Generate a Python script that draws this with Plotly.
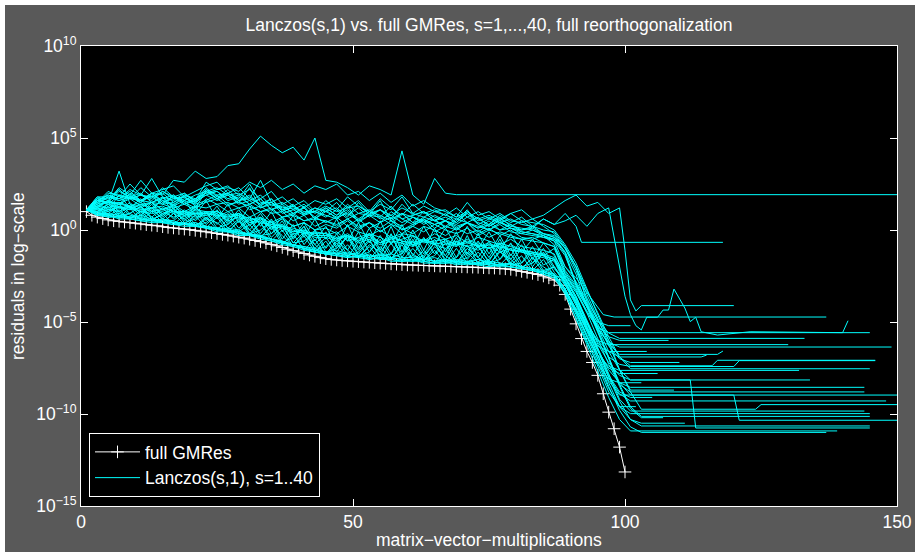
import plotly.graph_objects as go

# ---------------- data (log10 of residuals) ----------------
gmres_x = list(range(1, 101))
gmres_log = [1.0, 0.8, 0.7, 0.62, 0.55, 0.5, 0.47, 0.43, 0.4, 0.37,
             0.33, 0.29, 0.26, 0.23, 0.18, 0.14, 0.11, 0.08, 0.05, 0.02,
             -0.02, -0.06, -0.1, -0.15, -0.19, -0.24, -0.28, -0.33, -0.39, -0.44,
             -0.5, -0.57, -0.63, -0.7, -0.78, -0.86, -0.95, -1.04, -1.12, -1.2,
             -1.28, -1.36, -1.43, -1.5, -1.56, -1.6, -1.63, -1.66, -1.68, -1.7,
             -1.72, -1.74, -1.76, -1.78, -1.8, -1.82, -1.84, -1.86, -1.88, -1.9,
             -1.91, -1.92, -1.93, -1.94, -1.95, -1.96, -1.97, -1.98, -1.99, -2.0,
             -2.01, -2.02, -2.03, -2.05, -2.06, -2.07, -2.09, -2.11, -2.14, -2.18,
             -2.25, -2.3, -2.36, -2.42, -2.5, -2.6, -2.72, -3.0, -3.5, -4.3,
             -5.1, -5.9, -6.6, -7.2, -7.9, -8.9, -9.9, -10.8, -11.8, -13.15]

# sample positions of the noisy part of every Lanczos(s,1) curve
band_x = [1, 3, 5, 7, 9, 11, 13, 15, 17, 19, 21, 23, 25, 27, 29, 31, 33, 35, 37, 39, 41, 43,
          45, 47, 49, 51, 53, 55, 57, 59, 61, 63, 65, 67, 69, 71, 73, 75, 77, 79, 81, 83, 85, 87]

lanczos_head = [
    # s=1
    [1.1, 1.3, 1.6, 1.4, 1.8, 1.5, 2.0, 1.9, 2.7, 2.6, 3.2, 2.8, 2.9, 3.5, 3.6, 4.4, 5.1,
     4.6, 4.2, 4.5, 3.8, 5.0, 2.7, 2.6, 2.3, 1.9, 2.4, 2.2, 1.9, 4.3, 1.9, 1.4, 2.8, 2.0],
    [1.1, 1.2, 1.0, 1.3, 1.1, 1.4, 1.2, 1.6, 1.3, 1.9, 1.7,
     2.0, 2.2, 2.3, 2.1, 2.6, 2.3, 2.7, 2.2, 2.5, 2.0, 2.4,
     2.2, 2.5, 1.9, 2.1, 1.6, 2.0, 1.5, 1.9, 1.3, 1.6, 1.2,
     1.0, 0.7, 1.0, 0.6, 0.8, 0.5, 0.9, 1.1, 0.6, 0.8, 1.2],
    [1.1, 1.3, 1.5, 3.2, 1.4, 1.2, 1.5, 1.1, 1.3, 0.9, 1.2,
     0.8, 1.0, 0.6, 0.9, 0.5, 0.7, 0.3, 0.6, 0.2, 0.4, 0.0,
     0.3, 0.1, 0.5, 0.0, 0.4, -0.1, 0.3, -0.2, 0.2, 0.6, 0.1,
     0.5, 0.0, 0.4, -0.1, 0.3, 0.7, 0.2, 0.5, 0.1, 0.6, 0.3],
    [1.1, 1.6, 1.9, 1.7, 2.1, 1.6, 1.8, 1.4, 1.9, 1.5, 1.2,
     2.1, 1.7, 2.2, 1.6, 1.8, 1.4, 1.7, 1.0, 1.3, 0.9, 1.2,
     1.0, 1.5, 0.8, 1.2, 0.7, 1.1, 0.6, 1.4, 0.8, 1.0, 0.5,
     0.9, 0.4, 1.0, 0.6, 0.3, 0.8, 0.4, 0.7, 0.2, 0.6, 0.3],
    # s=5
    [1.1, 1.4, 1.8, 1.6, 1.8, 1.5, 1.9, 1.4, 1.5, 1.8, 1.3,
     1.5, 1.7, 1.3, 1.6, 1.1, 1.3, 0.9, 1.0, 0.5, 0.8, 0.2,
     0.5, 0.2, 0.6, 0.1, 0.4, -0.1, 0.3, 0.1, -0.2, 0.2, 0.0,
     -0.3, 0.1, -0.2, 0.0, -0.4, -0.1, -0.3, -0.5, -0.4, -0.7, -0.9],
    [1.1, 0.9, 1.3, 0.7, 1.2, 0.5, 1.0, 0.4, 0.9, 0.3, 0.8,
     0.1, 0.7, -0.1, 0.5, -0.3, 0.4, -0.6, 0.0, -0.9, -0.3, -1.2,
     -0.6, -1.4, -0.8, -1.5, -0.9, -1.6, -0.7, -1.7, -1.0, -1.7, -1.1,
     -1.8, -1.0, -1.8, -1.2, -1.9, -1.1, -1.9, -1.4, -2.2, -1.6, -2.5],
    [1.1, 1.6, 1.5, 2.2, 1.7, 1.9, 2.8, 1.8, 1.6, 2.0, 1.5,
     2.2, 1.7, 1.9, 1.5, 2.3, 1.2, 1.4, 1.1, 0.8, 1.3, 0.6,
     1.1, 0.6, 1.3, 0.4, 0.8, 1.6, 0.5, 0.2, 0.7, 0.3, 0.6,
     0.1, 0.5, 1.1, 0.3, 0.0, 0.4, 0.1, -0.2, 0.0, -0.3, -0.6],
    [1.1, 0.9, 0.8, 0.7, 0.9, 0.6, 0.5, 0.6, 0.4, 0.3, 0.4,
     0.2, 0.0, 0.1, -0.2, -0.2, -0.4, -0.5, -0.7, -0.8, -1.0, -1.1,
     -1.3, -1.2, -1.4, -1.5, -1.3, -1.6, -1.5, -1.6, -1.7, -1.5, -1.7,
     -1.6, -1.8, -1.7, -1.6, -1.8, -1.9, -1.8, -2.0, -2.1, -2.2, -2.4],
    [1.1, 1.3, 1.2, 1.4, 1.3, 1.0, 1.2, 0.9, 1.1, 0.8, 0.9,
     0.9, 1.0, 0.7, 0.9, 0.4, 0.6, 0.2, 0.3, -0.1, 0.0, -0.3,
     -0.3, -0.1, -0.6, -0.4, -0.2, -0.7, -0.5, -0.3, -0.8, -0.6, -0.4,
     -0.7, -0.9, -0.5, -0.8, -1.0, -0.7, -0.9, -1.1, -1.2, -1.4, -1.6],
    # s=10
    [1.1, 1.6, 1.5, 1.4, 2.0, 1.6, 1.5, 1.8, 1.3, 1.6, 1.4,
     1.6, 1.9, 1.4, 1.5, 1.3, 1.0, 1.2, 0.7, 0.9, 0.5, 0.7,
     0.4, 0.7, 0.2, 0.6, 0.1, 0.4, 0.7, 0.0, 0.3, 0.5, -0.1,
     0.2, 0.0, 0.4, -0.2, 0.1, -0.3, 0.0, -0.4, -0.5, -0.3, -0.8],
    [1.1, 1.2, 0.8, 1.1, 0.6, 1.0, 0.5, 0.9, 0.3, 0.8, 0.2,
     0.7, 0.0, 0.6, -0.1, 0.3, -0.4, 0.2, -0.8, -0.2, -1.1, -0.5,
     -1.4, -0.7, -1.5, -0.6, -1.6, -0.9, -1.6, -0.8, -1.7, -1.1, -1.8,
     -1.0, -1.8, -1.2, -1.8, -0.9, -1.9, -1.3, -2.1, -1.5, -2.3, -2.0],
    [1.1, 1.4, 2.0, 1.9, 1.7, 2.3, 1.8, 2.0, 1.5, 1.9, 1.6,
     2.3, 1.8, 2.0, 1.6, 1.9, 1.3, 1.7, 1.1, 1.4, 0.8, 1.2,
     1.0, 1.2, 0.7, 1.5, 0.8, 1.1, 0.6, 0.9, 0.4, 1.0, 0.7,
     0.5, 0.9, 0.4, 0.7, 0.2, 0.6, 0.3, 0.0, 0.2, -0.2, -0.4],
    [1.1, 0.9, 1.5, 1.0, 1.3, 0.8, 1.4, 0.7, 1.2, 0.6, 1.1,
     0.5, 1.1, 0.3, 0.9, 0.0, 0.7, -0.2, 0.5, -0.5, 0.2, -0.8,
     -0.1, -1.0, -0.3, -1.1, -0.2, -1.2, -0.4, -1.3, -0.3, -1.3, -0.5,
     -1.4, -0.4, -1.4, -0.6, -1.5, -0.5, -1.6, -0.8, -1.8, -1.0, -2.0],
    [1.1, 1.8, 1.6, 2.3, 1.9, 2.7, 2.0, 2.2, 2.4, 1.8, 2.1,
     2.4, 2.6, 2.0, 2.3, 1.7, 2.7, 1.5, 1.8, 1.3, 1.6, 1.0,
     1.6, 1.1, 1.8, 1.3, 1.0, 1.7, 1.2, 0.8, 1.4, 0.9, 1.1,
     0.8, 1.2, 0.7, 1.0, 0.6, 0.9, 0.5, 0.4, 0.6, 0.2, -0.2],
    [1.1, 1.0, 0.8, 0.9, 0.7, 0.7, 0.5, 0.6, 0.4, 0.4, 0.2,
     0.2, 0.1, -0.1, 0.0, -0.3, -0.3, -0.5, -0.6, -0.8, -0.9, -1.1,
     -1.2, -1.3, -1.2, -1.4, -1.5, -1.3, -1.5, -1.6, -1.4, -1.6, -1.7,
     -1.6, -1.7, -1.8, -1.6, -1.8, -1.9, -1.8, -2.0, -2.1, -2.3, -2.5],
    # s=15
    [1.1, 1.2, 1.6, 1.2, 1.3, 1.5, 1.0, 1.2, 1.0, 0.8, 1.1,
     1.0, 0.7, 1.0, 0.6, 0.7, 0.4, 0.3, 0.2, 0.0, -0.2, -0.1,
     -0.2, -0.5, -0.3, -0.6, -0.2, -0.4, -0.7, -0.5, -0.3, -0.7, -0.6,
     -0.5, -0.8, -0.6, -0.9, -0.7, -1.0, -0.8, -1.1, -1.2, -1.3, -1.5],
    [1.1, 1.6, 1.9, 1.7, 1.9, 1.6, 2.0, 1.5, 1.7, 1.8, 1.4,
     2.1, 1.7, 2.0, 1.6, 1.7, 1.4, 1.5, 1.1, 1.2, 0.9, 1.0,
     0.7, 1.1, 0.6, 0.9, 0.8, 0.4, 1.0, 0.6, 0.3, 0.7, 0.5,
     0.2, 0.6, 0.4, 0.1, 0.5, 0.0, 0.3, -0.1, -0.2, -0.3, -0.5],
    [1.1, 1.0, 1.4, 0.8, 0.9, 1.3, 0.6, 0.8, 1.2, 0.4, 0.6,
     1.0, 0.1, 0.3, 0.8, -0.2, 0.0, 0.5, -0.7, -0.4, 0.2, -1.1,
     -0.9, -0.4, -1.4, -1.2, -0.5, -1.5, -1.3, -0.6, -1.6, -1.4, -0.7,
     -1.7, -1.5, -0.8, -1.8, -1.6, -0.9, -1.9, -1.8, -1.2, -2.2, -2.0],
    [1.1, 1.5, 1.1, 1.9, 1.2, 1.7, 1.0, 1.8, 0.9, 1.6, 0.8,
     1.6, 0.6, 1.4, 0.4, 1.3, 0.2, 1.0, -0.1, 0.8, -0.4, 0.6,
     -0.5, 0.6, -0.6, 0.4, -0.7, 0.5, -0.8, 0.3, -0.9, 0.2, -0.8,
     0.1, -0.9, 0.2, -1.0, -0.1, -1.1, -0.2, -1.2, -0.5, -1.4, -1.0],
    [1.1, 0.8, 0.7, 0.7, 0.6, 0.5, 0.5, 0.4, 0.3, 0.3, 0.2,
     0.1, 0.0, -0.1, -0.2, -0.3, -0.4, -0.5, -0.7, -0.9, -1.0, -1.2,
     -1.3, -1.4, -1.5, -1.4, -1.5, -1.6, -1.6, -1.7, -1.6, -1.7, -1.8,
     -1.8, -1.7, -1.8, -1.9, -1.8, -1.9, -2.0, -2.1, -2.2, -2.3, -2.5],
    # s=20
    [1.1, 1.7, 1.5, 2.1, 1.8, 1.6, 2.0, 1.5, 1.8, 1.4, 1.7,
     2.0, 2.1, 1.7, 1.9, 1.4, 1.7, 1.1, 1.4, 0.9, 1.2, 0.7,
     1.2, 0.8, 1.1, 0.6, 1.0, 0.8, 0.5, 0.9, 0.7, 0.4, 0.8,
     0.5, 0.3, 0.7, 0.4, 0.2, 0.5, 0.1, 0.0, 0.1, -0.2, -0.4],
    [1.1, 1.1, 1.1, 1.2, 1.2, 1.0, 0.9, 1.0, 0.7, 0.9, 0.7,
     0.8, 0.9, 0.5, 0.7, 0.3, 0.5, 0.1, 0.2, -0.2, -0.1, -0.4,
     -0.4, -0.6, -0.3, -0.7, -0.5, -0.8, -0.6, -0.7, -0.9, -0.6, -0.8,
     -1.0, -0.7, -0.9, -1.1, -0.8, -1.2, -1.0, -1.2, -1.4, -1.5, -1.7],
    [1.1, 1.8, 1.8, 1.7, 2.2, 1.9, 1.6, 2.1, 1.8, 1.6, 1.9,
     2.1, 2.3, 1.9, 2.0, 1.6, 1.9, 1.3, 1.5, 1.1, 1.4, 0.9,
     1.2, 0.8, 1.4, 0.9, 1.1, 0.7, 1.3, 0.6, 0.8, 1.0, 0.5,
     0.7, 0.4, 0.9, 0.3, 0.6, 0.4, 0.2, 0.1, 0.0, -0.2, -0.3],
    [1.1, 1.4, 1.5, 1.5, 1.2, 1.4, 1.5, 1.1, 1.4, 1.0, 1.3,
     1.2, 1.4, 1.0, 1.2, 0.7, 1.0, 0.4, 0.7, 0.2, 0.4, 0.0,
     0.1, -0.2, 0.2, -0.1, -0.3, 0.0, -0.4, -0.2, -0.3, -0.6, -0.2,
     -0.5, -0.3, -0.7, -0.4, -0.6, -0.8, -0.5, -0.9, -1.0, -1.1, -1.3],
    [1.1, 0.8, 1.1, 1.0, 0.6, 1.1, 0.7, 0.4, 0.9, 0.6, 0.2,
     0.6, 0.4, -0.1, 0.5, 0.0, -0.4, 0.2, -0.3, -0.9, -0.2, -0.8,
     -1.3, -0.6, -1.1, -1.5, -0.8, -1.2, -1.6, -0.7, -1.3, -1.7, -0.9,
     -1.4, -1.8, -1.0, -1.5, -1.9, -1.2, -1.6, -2.1, -1.5, -2.0, -2.4],
    # s=25
    [1.1, 1.5, 1.8, 1.6, 1.8, 2.0, 1.5, 1.7, 1.9, 1.4, 1.6,
     1.9, 1.6, 1.9, 1.4, 1.6, 1.2, 1.5, 0.9, 1.1, 0.8, 1.0,
     0.8, 0.6, 1.0, 0.5, 0.8, 0.7, 0.3, 0.9, 0.4, 0.6, 0.3,
     0.5, 0.1, 0.4, 0.2, 0.0, 0.3, -0.1, -0.2, -0.3, -0.4, -0.6],
    [1.1, 1.0, 1.4, 1.2, 1.1, 1.2, 1.0, 1.1, 0.9, 1.0, 0.8,
     0.9, 0.8, 0.7, 0.8, 0.4, 0.5, 0.2, 0.1, -0.1, 0.0, -0.3,
     -0.3, -0.5, -0.2, -0.6, -0.4, -0.7, -0.3, -0.6, -0.8, -0.5, -0.7,
     -0.8, -0.6, -0.9, -0.7, -1.0, -0.8, -1.1, -1.2, -1.3, -1.4, -1.6],
    [1.1, 0.8, 0.8, 0.6, 0.6, 0.5, 0.4, 0.4, 0.3, 0.2, 0.2,
     0.1, -0.1, -0.1, -0.3, -0.3, -0.5, -0.6, -0.8, -0.9, -1.1, -1.2,
     -1.3, -1.4, -1.4, -1.5, -1.6, -1.5, -1.7, -1.7, -1.6, -1.8, -1.8,
     -1.7, -1.9, -1.8, -1.9, -2.0, -1.9, -2.0, -2.1, -2.2, -2.4, -2.6],
    [1.1, 1.1, 0.9, 1.3, 0.8, 0.7, 1.1, 0.6, 0.5, 1.0, 0.3,
     0.4, 0.9, 0.1, 0.0, 0.6, -0.3, -0.2, 0.3, -0.7, -0.6, -0.1,
     -1.2, -1.0, -0.4, -1.4, -1.2, -0.5, -1.5, -1.3, -0.6, -1.6, -1.4,
     -0.7, -1.7, -1.5, -0.8, -1.8, -1.6, -1.0, -2.0, -1.8, -1.3, -2.3],
    [1.1, 1.6, 1.5, 1.4, 1.7, 1.3, 1.5, 1.4, 1.2, 1.4, 1.1,
     1.7, 1.4, 1.5, 1.2, 1.4, 1.0, 1.1, 0.7, 0.8, 0.5, 0.6,
     0.5, 0.3, 0.6, 0.2, 0.4, 0.1, 0.5, 0.0, 0.2, -0.1, 0.3,
     0.0, -0.2, 0.1, -0.3, 0.0, -0.2, -0.4, -0.5, -0.6, -0.7, -0.9],
    # s=30
    [1.1, 0.9, 0.9, 0.8, 0.7, 0.8, 0.6, 0.5, 0.5, 0.3, 0.4,
     0.2, 0.1, 0.0, -0.1, -0.2, -0.3, -0.5, -0.6, -0.8, -0.9, -1.0,
     -1.2, -1.1, -1.3, -1.3, -1.4, -1.4, -1.3, -1.5, -1.5, -1.6, -1.5,
     -1.7, -1.6, -1.7, -1.8, -1.7, -1.8, -1.9, -2.0, -2.1, -2.3, -2.4],
    [1.1, 1.7, 1.7, 2.2, 1.7, 1.9, 1.8, 2.1, 1.7, 1.8, 1.5,
     2.2, 1.9, 2.0, 1.7, 2.5, 1.5, 1.5, 1.2, 1.3, 1.0, 1.0,
     1.3, 1.0, 1.2, 1.3, 0.9, 1.1, 0.8, 1.2, 0.9, 0.7, 1.0,
     0.8, 0.6, 0.9, 0.5, 0.7, 0.4, 0.6, 0.3, 0.2, 0.0, -0.1],
    [1.1, 1.2, 1.0, 1.4, 0.9, 1.3, 0.7, 1.2, 0.6, 1.1, 0.5,
     1.0, 0.3, 0.9, 0.1, 0.7, -0.2, 0.6, -0.5, 0.3, -0.8, 0.0,
     -1.0, -0.2, -1.1, -0.1, -1.2, -0.3, -1.3, -0.2, -1.4, -0.4, -1.3,
     -0.5, -1.5, -0.3, -1.5, -0.6, -1.6, -0.7, -1.8, -0.9, -1.9, -1.6],
    [1.1, 0.9, 0.7, 0.8, 0.6, 0.6, 0.5, 0.5, 0.4, 0.3, 0.3,
     0.1, 0.1, -0.1, -0.1, -0.3, -0.4, -0.6, -0.7, -0.8, -1.0, -1.2,
     -1.3, -1.3, -1.5, -1.4, -1.6, -1.5, -1.6, -1.7, -1.7, -1.7, -1.8,
     -1.8, -1.8, -1.9, -1.8, -1.9, -2.0, -2.0, -2.1, -2.2, -2.4, -2.6],
    [1.1, 1.5, 2.1, 1.8, 2.5, 1.9, 1.7, 2.3, 1.8, 2.0, 1.6,
     2.6, 2.2, 2.4, 1.9, 2.2, 1.7, 2.1, 1.4, 1.7, 1.2, 1.6,
     1.4, 1.7, 1.2, 1.6, 1.0, 1.4, 1.1, 1.8, 0.9, 1.3, 1.0,
     1.1, 0.7, 1.5, 0.8, 1.0, 0.6, 0.9, 0.5, 0.4, 0.3, 0.0],
    [1.1, 1.2, 1.2, 1.5, 1.3, 1.1, 1.2, 1.3, 1.0, 1.0, 0.9,
     1.0, 1.0, 0.8, 0.9, 0.6, 0.6, 0.4, 0.2, 0.1, -0.1, -0.2,
     -0.2, -0.4, -0.3, -0.5, -0.3, -0.7, -0.4, -0.6, -0.7, -0.5, -0.8,
     -0.6, -0.8, -0.7, -0.9, -0.8, -0.9, -1.1, -1.1, -1.3, -1.4, -1.6],
    # s=35
    [1.1, 0.9, 0.8, 0.7, 0.7, 0.6, 0.6, 0.4, 0.4, 0.3, 0.2,
     0.2, 0.0, 0.0, -0.2, -0.2, -0.4, -0.5, -0.7, -0.8, -1.0, -1.1,
     -1.2, -1.3, -1.3, -1.4, -1.4, -1.5, -1.5, -1.6, -1.6, -1.6, -1.7,
     -1.7, -1.7, -1.8, -1.8, -1.9, -1.9, -2.0, -2.1, -2.2, -2.3, -2.5],
    [1.1, 1.6, 1.4, 1.9, 1.7, 1.6, 2.0, 1.6, 1.4, 1.7, 1.5,
     1.9, 2.1, 1.6, 1.8, 1.4, 1.7, 1.1, 1.3, 0.9, 1.2, 0.6,
     1.0, 0.7, 0.9, 0.5, 1.0, 0.6, 0.8, 0.4, 0.7, 0.5, 0.3,
     0.5, 0.2, 0.4, 0.1, 0.3, 0.0, 0.1, -0.1, -0.2, -0.4, -0.5],
    [1.1, 1.0, 1.4, 0.9, 1.3, 0.8, 1.2, 0.6, 1.1, 0.5, 1.0,
     0.3, 0.8, 0.1, 0.6, -0.2, 0.4, -0.4, 0.2, -0.7, -0.1, -1.0,
     -0.4, -1.2, -0.3, -1.3, -0.6, -1.4, -0.2, -1.5, -0.5, -1.5, -0.7,
     -1.6, -0.6, -1.6, -0.9, -1.7, -0.7, -1.8, -1.0, -2.0, -1.2, -2.1],
    [1.1, 1.3, 1.6, 1.0, 1.5, 0.9, 1.5, 0.8, 1.4, 0.7, 1.3,
     0.6, 1.3, 0.4, 1.1, 0.2, 0.9, 0.0, 0.7, -0.4, 0.4, -0.6,
     0.2, -0.9, 0.3, -1.0, 0.1, -1.1, 0.2, -1.2, 0.0, -1.1, 0.1,
     -1.2, -0.1, -1.3, -0.2, -1.3, -0.3, -1.4, -0.5, -1.6, -0.7, -1.4],
]

# convergence phase and stagnation plateau of each curve
lanczos_tail_x = [
    [69, 150],
    [89, 91, 93, 95, 97, 99, 100, 101, 102, 103, 120],
    [89, 91, 92, 118],
    [89, 91, 93, 95, 97, 98, 99, 100, 101, 102, 103, 104, 106, 107, 108, 109, 111, 112, 113, 114, 117, 123, 140, 141],
    [89, 91, 93, 95, 96, 98, 137],
    [89, 91, 93, 95, 97, 145],
    [89, 91, 93, 95, 97, 99, 133],
    [89, 91, 93, 95, 97, 130],
    [89, 91, 93, 95, 97, 99, 149],
    [89, 91, 93, 95, 97, 99, 117, 118],
    [89, 91, 93, 95, 97, 99, 114, 115],
    [89, 91, 93, 95, 97, 99, 101, 116, 117, 146],
    [89, 91, 93, 95, 97, 99, 101, 120, 121, 146],
    [89, 91, 93, 95, 97, 99, 101, 145],
    [89, 91, 93, 95, 97, 99, 132],
    [89, 91, 93, 95, 97, 99, 101, 112, 113, 145],
    [89, 91, 93, 95, 97, 99, 101, 134],
    [89, 91, 93, 95, 97, 99, 101, 144],
    [89, 91, 93, 95, 97, 99, 101, 144],
    [89, 91, 93, 95, 97, 99, 150],
    [89, 91, 93, 95, 97, 99, 101, 120, 121, 150],
    [89, 91, 93, 95, 97, 99, 101, 148],
    [89, 91, 93, 95, 97, 99, 101, 103, 124, 125, 150],
    [89, 91, 93, 95, 97, 99, 101, 144],
    [89, 91, 93, 95, 97, 99, 101, 145],
    [89, 91, 93, 95, 97, 99, 101, 103, 145],
    [89, 91, 93, 95, 97, 99, 101, 103, 145],
    [89, 91, 93, 95, 97, 99, 101, 139],
    [89, 91, 93, 95, 97, 99, 101, 103, 137],
    [89, 91, 93, 95, 97, 99, 108],
    [89, 91, 93, 95, 97, 104],
    [89, 91, 93, 95, 97, 99, 101, 110],
    [89, 91, 93, 95, 97, 99, 106],
    [89, 91, 93, 95, 97, 99, 103],
    [89, 91, 93, 95, 97, 99, 101, 109],
    [89, 91, 93, 95, 97, 99, 101, 105],
    [89, 91, 93, 95, 97, 99, 102],
    [89, 91, 93, 95, 97, 99, 101, 103, 107],
    [89, 91, 93, 95, 97, 99, 101, 103, 111],
    [89, 91, 93, 95, 97, 101],
]
lanczos_tail_log = [
    [1.92, 1.92],
    [1.6, 1.9, 1.3, 1.5, 0.9, 1.2, -1.1, -3.8, -4.4, -4.11, -4.11],
    [0.9, 0.2, -0.67, -0.67],
    [0.5, 0.8, 0.2, 0.9, 1.2, -0.4, -2.2, -3.6, -4.6, -5.2, -5.43, -4.74, -4.74, -4.35, -4.35, -3.21, -4.24, -4.98, -4.74, -5.53, -5.71, -5.53, -5.58, -4.93],
    [-2.0, -2.6, -3.4, -4.2, -4.6, -4.73, -4.73],
    [-2.6, -3.4, -4.5, -5.3, -5.58, -5.58],
    [-2.0, -2.8, -3.8, -4.9, -5.6, -5.89, -5.89],
    [-3.2, -4.3, -5.4, -6.0, -6.23, -6.23],
    [-2.5, -3.3, -4.4, -5.4, -6.1, -6.36, -6.36],
    [-2.2, -3.0, -4.1, -5.3, -6.2, -6.76, -6.76, -6.58],
    [-3.0, -4.0, -5.1, -6.0, -6.6, -6.9, -6.9, -6.8],
    [-1.0, -2.2, -3.7, -4.9, -6.0, -6.9, -7.38, -7.38, -7.08, -7.08],
    [-2.9, -3.8, -5.0, -6.1, -6.9, -7.3, -7.42, -7.42, -7.1, -7.1],
    [-1.0, -2.0, -3.3, -4.5, -5.8, -6.9, -7.54, -7.54],
    [-3.3, -4.5, -5.8, -6.8, -7.4, -7.63, -7.63],
    [-2.6, -3.6, -4.9, -6.2, -7.2, -7.9, -8.15, -8.15, -10.76, -10.76],
    [-1.2, -2.9, -4.0, -5.3, -6.6, -7.6, -8.15, -8.15],
    [-2.8, -3.9, -5.2, -6.5, -7.6, -8.3, -8.55, -8.55],
    [-2.4, -3.3, -4.5, -5.9, -7.3, -8.4, -8.8, -8.8],
    [-3.3, -4.4, -5.7, -7.0, -8.2, -8.97, -8.97],
    [-1.2, -2.4, -4.2, -5.6, -7.0, -8.3, -8.97, -8.97, -10.34, -10.34],
    [-2.9, -4.0, -5.4, -6.8, -8.0, -8.9, -9.29, -9.29],
    [-1.0, -2.0, -3.5, -4.8, -6.2, -7.6, -8.8, -9.74, -9.74, -9.49, -9.49],
    [-2.6, -3.6, -5.0, -6.5, -7.9, -9.2, -9.84, -9.84],
    [-3.2, -4.4, -5.8, -7.3, -8.6, -9.6, -9.98, -9.98],
    [-1.4, -2.9, -4.0, -5.4, -6.9, -8.4, -9.6, -10.13, -10.13],
    [-2.7, -3.7, -5.0, -6.5, -8.0, -9.3, -10.3, -10.65, -10.65],
    [-3.4, -4.8, -6.3, -7.7, -9.1, -10.3, -10.92, -10.92],
    [-3.0, -4.1, -5.5, -7.0, -8.5, -9.8, -10.7, -11.0, -11.0],
    [-2.3, -3.1, -4.2, -5.2, -5.8, -6.0, -6.0],
    [-3.2, -4.3, -5.5, -6.3, -6.6, -6.6],
    [-0.9, -2.0, -3.9, -5.1, -6.3, -7.0, -7.2, -7.2],
    [-2.8, -3.9, -5.3, -6.6, -7.5, -7.8, -7.8],
    [-3.5, -4.8, -6.1, -7.3, -8.1, -8.3, -8.3],
    [-0.8, -1.8, -3.2, -4.5, -6.0, -7.6, -8.7, -8.7],
    [-2.6, -3.7, -5.0, -6.5, -7.9, -8.8, -9.1, -9.1],
    [-3.3, -4.6, -6.0, -7.4, -8.8, -9.6, -9.6],
    [-1.3, -3.0, -4.1, -5.5, -7.0, -8.5, -9.7, -10.2, -10.2],
    [-2.8, -3.9, -5.3, -6.8, -8.3, -9.6, -10.3, -10.5, -10.5],
    [-2.4, -3.2, -4.2, -5.0, -5.2, -5.2],
]

y_tick_exp = [-15, -10, -5, 0, 5, 10]
y_tick_text = ["10<sup>\u221215</sup>", "10<sup>\u221210</sup>", "10<sup>\u22125</sup>",
               "10<sup>0</sup>", "10<sup>5</sup>", "10<sup>10</sup>"]
x_ticks = [0, 50, 100, 150]

# ---------------- figure ----------------
FONT = "Liberation Sans"
FS = 17.5
fig = go.Figure()

fig.add_trace(go.Scatter(
    x=gmres_x, y=[10 ** v for v in gmres_log], mode="lines+markers",
    name="full GMRes",
    line=dict(color="white", width=1),
    marker=dict(symbol="cross-thin", size=9, line=dict(color="white", width=1)),
))

for i, head in enumerate(lanczos_head):
    xs = band_x[:len(head)] + lanczos_tail_x[i]
    ys = [10 ** v for v in head + lanczos_tail_log[i]]
    fig.add_trace(go.Scatter(
        x=xs, y=ys, mode="lines",
        name="Lanczos(s,1), s=1..40",
        legendgroup="lanczos", showlegend=(i == 0),
        line=dict(color="#00FFFF", width=1),
    ))

W, H = 915, 552
L, R, T, B = 81, 18, 46, 46
pw, ph = W - L - R, H - T - B


def px_x(p):
    return (p - L) / pw


def px_y(p):
    return (H - B - p) / ph


fig.update_layout(
    width=W, height=H,
    margin=dict(l=L, r=R, t=T, b=B, autoexpand=False),
    paper_bgcolor="white",
    plot_bgcolor="rgba(0,0,0,0)",
    font=dict(family=FONT, size=FS, color="white"),
    title=dict(text="Lanczos(s,1) vs. full GMRes, s=1,...,40, full reorthogonalization",
               x=(L + pw / 2) / W, xanchor="center", y=1 - 25 / H, yanchor="middle",
               font=dict(family=FONT, size=FS, color="white")),
    shapes=[
        dict(type="rect", xref="paper", yref="paper", layer="below",
             x0=px_x(5), x1=px_x(W), y0=px_y(H), y1=px_y(5),
             fillcolor="#595959", line=dict(width=0)),
        dict(type="rect", xref="paper", yref="paper", layer="below",
             x0=0, x1=1, y0=0, y1=1, fillcolor="black", line=dict(width=0)),
    ],
    annotations=[
        dict(text="matrix\u2212vector\u2212multiplications", xref="paper", yref="paper",
             x=0.5, y=px_y(540), xanchor="center", yanchor="middle", showarrow=False,
             font=dict(family=FONT, size=FS, color="white")),
        dict(text="residuals in log\u2212scale", xref="paper", yref="paper",
             x=px_x(18), y=0.5, xanchor="center", yanchor="middle", showarrow=False,
             textangle=-90, font=dict(family=FONT, size=FS, color="white")),
    ],
    xaxis=dict(range=[0, 150], tickvals=x_ticks, ticks="inside", ticklen=7,
               tickcolor="white", showline=True, linecolor="white", linewidth=1,
               mirror="ticks", showgrid=False, zeroline=False, automargin=False,
               tickfont=dict(family=FONT, size=FS, color="white")),
    yaxis=dict(type="log", range=[-15, 10], tickvals=[10 ** e for e in y_tick_exp],
               ticktext=y_tick_text, ticks="inside", ticklen=7,
               tickcolor="white", showline=True, linecolor="white", linewidth=1,
               mirror="ticks", showgrid=False, zeroline=False, automargin=False,
               tickfont=dict(family=FONT, size=FS, color="white")),
    legend=dict(x=px_x(89), y=px_y(497), xanchor="left", yanchor="bottom",
                bgcolor="black", bordercolor="white", borderwidth=1,
                font=dict(family=FONT, size=FS, color="white"),
                tracegroupgap=0, itemwidth=45),
    showlegend=True,
)

fig.write_html("out.html", config={"displayModeBar": False},
               post_script="document.body.style.margin='0px';document.body.style.padding='0px';")
